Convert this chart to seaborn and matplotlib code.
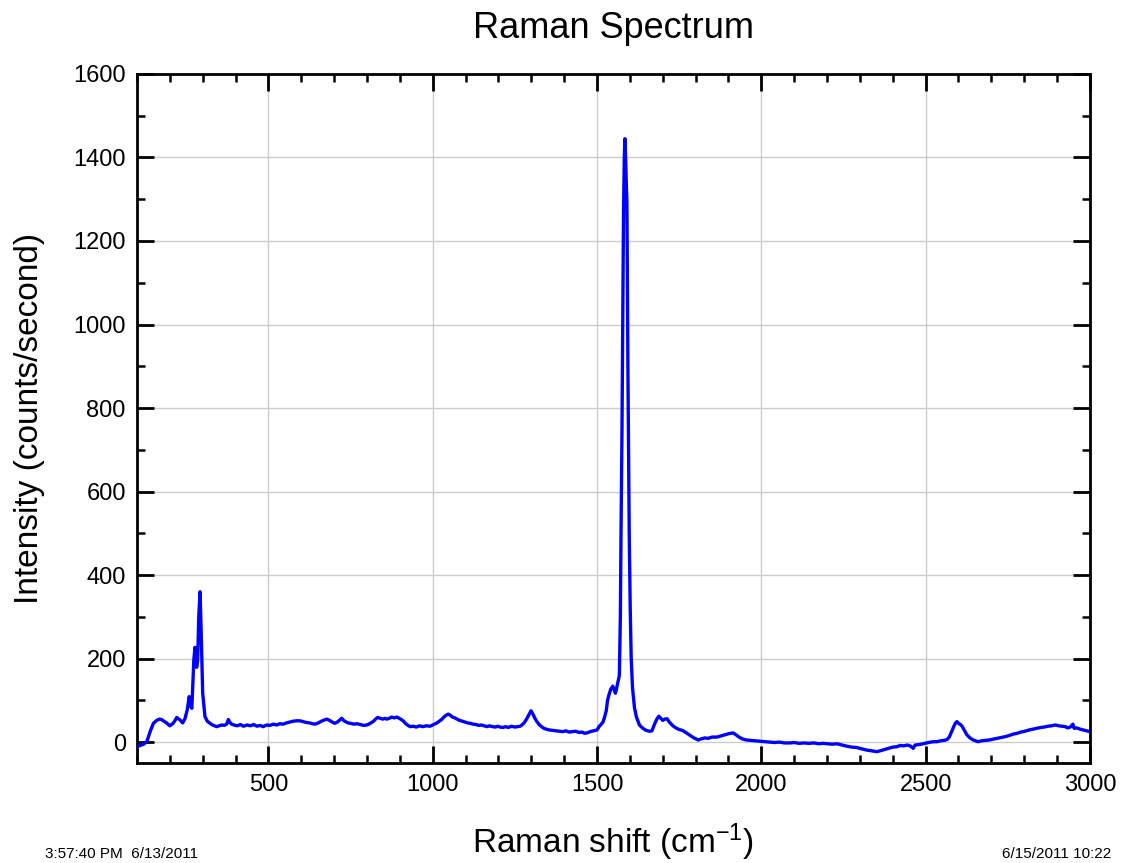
import matplotlib
matplotlib.use("Agg")
import matplotlib.pyplot as plt
import seaborn as sns
import pandas as pd
from matplotlib.ticker import MultipleLocator

# ---- data ----
shift_a = [100, 110, 120, 130, 140, 150, 160, 168, 175, 182, 190, 200, 210, 216, 221, 226, 231, 239, 246, 253,
           259, 264, 267, 270, 273, 276.5, 279, 281.6, 284.7, 288, 292, 295, 300, 307, 314, 322, 330, 342, 350,
           358, 366, 373, 378, 383, 388, 395]
inten_a = [-11, -8, -5, 1, 25, 45, 52, 55, 54, 50, 46, 39, 45, 52, 59, 56, 53, 46, 56, 77,
           109, 85, 81, 140, 196, 227, 200, 179, 196, 300, 360, 276, 117, 61, 50, 45, 41, 37, 39,
           41, 40, 43, 54, 47, 43, 41]

shift_b = [405, 415, 424, 435, 445, 455, 465, 475, 484, 495, 505, 515, 525, 535, 545, 555, 565, 575, 586, 596,
           606, 615, 625, 634, 642, 652, 661, 670, 678, 686, 694, 702, 710, 717, 723, 730, 737, 742, 750, 760,
           770, 780, 790, 800, 810, 820, 827, 833, 840, 848, 855, 860, 868, 875, 883, 891, 898, 904, 910, 918,
           925, 931, 940, 950, 960, 970, 980, 992, 1000]
inten_b = [39, 42, 38, 41, 39, 42, 38, 40, 37, 41, 40, 43, 41, 44, 43, 46, 48, 50, 51, 51,
           49, 47, 46, 44, 43, 46, 50, 53, 55, 52, 48, 45, 48, 53, 57, 51, 48, 46, 45, 43,
           44, 42, 40, 41, 45, 50, 56, 59, 57, 55, 57, 55, 57, 60, 58, 60, 57, 54, 51, 44,
           40, 37, 38, 36, 39, 37, 39, 38, 41]

shift_c = [1006, 1013, 1020, 1027, 1034, 1040, 1047, 1054, 1060, 1067, 1074, 1082, 1090, 1098, 1106, 1114, 1123,
           1132, 1140, 1148, 1157, 1165, 1173, 1182, 1190, 1198, 1205, 1213, 1222, 1230, 1240, 1250, 1258, 1266,
           1273, 1280, 1287, 1293, 1299, 1305, 1311, 1318, 1325, 1336, 1345, 1355, 1365, 1375, 1385, 1396, 1405,
           1415, 1425, 1435, 1445, 1455, 1462, 1469, 1476, 1483, 1490]
inten_c = [43, 46, 50, 54, 60, 64, 67, 64, 60, 58, 55, 52, 50, 48, 46, 45, 43,
           42, 40, 41, 39, 37, 39, 37, 36, 38, 36, 35, 37, 35, 38, 36, 37, 38,
           42, 48, 57, 66, 75, 67, 57, 48, 41, 34, 31, 29, 28, 27, 26, 25, 27,
           24, 25, 26, 23, 24, 21, 22, 24, 26, 27]

shift_d = [1500, 1507, 1512, 1518, 1522, 1528, 1532, 1537, 1542, 1548, 1552, 1556, 1560, 1563, 1566, 1568, 1571,
           1573, 1576, 1578, 1580, 1581, 1583, 1585, 1587, 1589, 1591, 1594, 1596, 1598, 1601, 1604, 1608, 1614,
           1620, 1629, 1638, 1647, 1654, 1660, 1667, 1675, 1682, 1688, 1694, 1700, 1706, 1713, 1720, 1731, 1740,
           1750]
inten_d = [29, 38, 42, 48, 57, 75, 100, 115, 127, 134, 125, 117, 130, 142, 152, 161, 300,
           498, 750, 994, 1200, 1291, 1400, 1445, 1400, 1340, 1291, 895, 680, 498, 320, 201, 130, 82,
           60, 41, 34, 29, 27, 26, 27, 43, 55, 62, 57, 52, 55, 56, 48, 39, 34,
           30]

shift_e = [1760, 1774, 1785, 1795, 1808, 1818, 1828, 1838, 1850, 1865, 1878, 1890, 1900, 1914, 1922, 1932, 1944,
           1955, 1968, 1980, 1996, 2010, 2025, 2040, 2055, 2070, 2087, 2100, 2115, 2130, 2145, 2160, 2175, 2188,
           2200, 2215, 2230, 2245, 2261, 2275, 2290, 2305, 2320, 2335, 2352, 2365, 2378, 2390, 2400, 2413, 2422,
           2432, 2445, 2455, 2462, 2468, 2480, 2492, 2504, 2515, 2525, 2535, 2545, 2555, 2565, 2572, 2579, 2586,
           2591, 2595, 2600, 2606, 2611, 2618, 2625, 2635, 2645, 2659, 2670, 2682, 2693, 2705, 2718, 2730, 2742,
           2755, 2766, 2778, 2790, 2802, 2815, 2827, 2839, 2850, 2860, 2872, 2883, 2894, 2905, 2915, 2925, 2932,
           2940, 2945, 2948, 2952, 2960, 2970, 2980, 2990, 3000]
inten_e = [28, 21, 15, 10, 5, 8, 10, 9, 12, 12, 15, 18, 20, 22, 18, 12, 7,
           5, 4, 3, 2, 1, 0, -1, 0, -2, -2, -1, -3, -2, -3, -2, -4, -3,
           -4, -5, -4, -7, -10, -12, -13, -16, -19, -21, -23, -20, -17, -14, -12, -11, -8,
           -9, -7, -10, -15, -7, -6, -4, -2, 0, 1, 1, 3, 4, 6, 12, 25, 38,
           46, 49, 45, 42, 38, 28, 18, 10, 5, 1, 3, 4, 5, 7, 9, 11, 13,
           16, 19, 21, 24, 26, 29, 31, 33, 35, 36, 38, 39, 41, 39, 38, 37, 34,
           36, 40, 43, 33, 34, 31, 29, 27, 25]

raman_shift = shift_a + shift_b + shift_c + shift_d + shift_e
intensity = inten_a + inten_b + inten_c + inten_d + inten_e

x_ticks = [500, 1000, 1500, 2000, 2500, 3000]
y_ticks = [0, 200, 400, 600, 800, 1000, 1200, 1400, 1600]

df = pd.DataFrame({"shift": raman_shift, "intensity": intensity})

# ---- styling ----
sns.set_theme(style="white")
plt.rcParams["font.family"] = ["Liberation Sans", "DejaVu Sans"]
plt.rcParams["mathtext.fontset"] = "custom"
plt.rcParams["mathtext.rm"] = "Liberation Sans"
plt.rcParams["mathtext.it"] = "Liberation Sans:italic"

fig = plt.figure(figsize=(11.31, 8.63), dpi=100)
ax = fig.add_axes([0.1211, 0.1159, 0.8426, 0.7984])

sns.lineplot(data=df, x="shift", y="intensity", ax=ax, color="#0000ff", linewidth=2.4,
             sort=False, estimator=None, zorder=3)

ax.set_xlim(100, 3000)
ax.set_ylim(-50, 1600)
ax.set_xticks(x_ticks)
ax.set_yticks(y_ticks)
ax.xaxis.set_minor_locator(MultipleLocator(100))
ax.yaxis.set_minor_locator(MultipleLocator(100))

ax.grid(True, which="major", color="#cccccc", linewidth=1.0, zorder=0)
ax.set_axisbelow(True)

ax.tick_params(which="major", direction="in", length=12, width=2, color="black",
               top=True, right=True, bottom=True, left=True, labelsize=17, pad=8,
               labelcolor="black")
ax.tick_params(which="minor", direction="in", length=6, width=1.8, color="black",
               top=True, right=True, bottom=True, left=True)
for sp in ax.spines.values():
    sp.set_color("black")
    sp.set_linewidth(2)

ax.set_xlabel("Raman shift (cm$^{\\mathregular{-1}}$)", fontsize=24, color="black", labelpad=18)
ax.set_ylabel("Intensity (counts/second)", fontsize=24, color="black", labelpad=20)
ax.set_title("Raman Spectrum", fontsize=26, color="black", pad=26)

fig.text(45 / 1131, 1 - 847 / 863, "3:57:40 PM  6/13/2011", fontsize=11, color="black",
         ha="left", va="top")
fig.text(1002 / 1131, 1 - 847 / 863, "6/15/2011 10:22", fontsize=11, color="black",
         ha="left", va="top")

fig.savefig("out.png", dpi=100)
